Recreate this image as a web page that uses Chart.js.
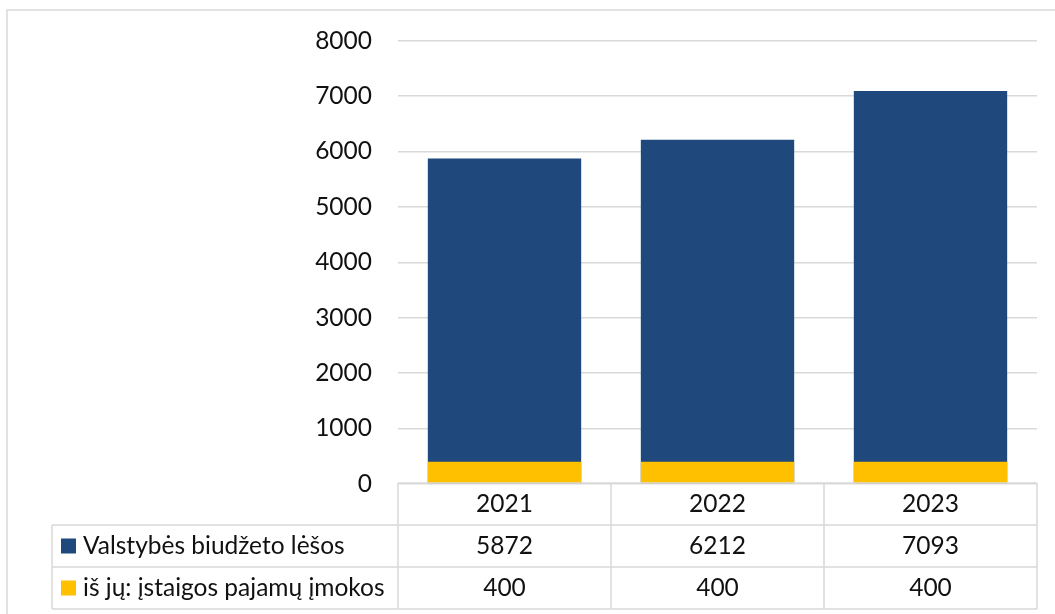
<!DOCTYPE html>
<html>
<head>
<meta charset="utf-8">
<script src="https://cdn.jsdelivr.net/npm/chart.js@4.4.1/dist/chart.umd.min.js"></script>
<style>
  html, body { margin: 0; padding: 0; background: #fff; }
  #wrap { width: 1055px; height: 614px; position: relative; }
</style>
</head>
<body>
<div id="wrap"><canvas id="chart"></canvas></div>
<script>
const years = ['2021', '2022', '2023'];
const budget = [5872, 6212, 7093];
const ownIncome = [400, 400, 400];
const seriesNames = ['Valstybės biudžeto lėšos', 'iš jų: įstaigos pajamų įmokos'];
const yTicks = [0, 1000, 2000, 3000, 4000, 5000, 6000, 7000, 8000];

const BLUE = '#1F497D';
const YELLOW = '#FFC000';
const LINE = '#d9d9d9';
const FONT = 'Lato, "Open Sans", sans-serif';
const FONT_SIZE = 24.5;

// frame + data table under the plot
const tablePlugin = {
  id: 'dataTable',
  beforeDraw(chart) {
    const ctx = chart.ctx;
    ctx.save();
    ctx.strokeStyle = LINE;
    ctx.lineWidth = 1.5;
    ctx.beginPath();
    ctx.moveTo(7, chart.height);
    ctx.lineTo(7, 10);
    ctx.lineTo(chart.width, 10);
    ctx.stroke();
    ctx.restore();
  },
  afterDraw(chart) {
    const ctx = chart.ctx;
    const x = chart.scales.x;
    const area = chart.chartArea;
    const rowH = 42;
    const top = area.bottom - 1;
    const legendLeft = 52;
    const colW = (area.right - area.left) / years.length;

    ctx.save();
    ctx.strokeStyle = LINE;
    ctx.lineWidth = 1.5;
    ctx.beginPath();
    // horizontal lines
    ctx.moveTo(area.left, top);
    ctx.lineTo(area.right, top);
    for (let r = 1; r <= 3; r++) {
      ctx.moveTo(legendLeft, top + r * rowH);
      ctx.lineTo(area.right, top + r * rowH);
    }
    // vertical lines
    ctx.moveTo(legendLeft, top + rowH);
    ctx.lineTo(legendLeft, top + 3 * rowH);
    for (let c = 0; c <= years.length; c++) {
      const cx = area.left + c * colW;
      ctx.moveTo(cx, top);
      ctx.lineTo(cx, top + 3 * rowH);
    }
    ctx.stroke();

    ctx.fillStyle = '#111';
    ctx.font = FONT_SIZE + 'px ' + FONT;
    ctx.textBaseline = 'middle';
    ctx.textAlign = 'center';
    years.forEach((yr, i) => {
      const cx = x.getPixelForValue(i);
      ctx.fillText(yr, cx, top + rowH / 2);
      ctx.fillText(String(budget[i]), cx, top + rowH * 1.5);
      ctx.fillText(String(ownIncome[i]), cx, top + rowH * 2.5);
    });

    const keys = [BLUE, YELLOW];
    ctx.textAlign = 'left';
    seriesNames.forEach((name, r) => {
      const cy = top + rowH * (r + 1.5);
      ctx.fillStyle = keys[r];
      ctx.fillRect(61, cy - 7.5, 15, 15);
      ctx.fillStyle = '#111';
      ctx.fillText(name, 83, cy);
    });
    ctx.restore();
  }
};

new Chart(document.getElementById('chart'), {
  type: 'bar',
  data: {
    labels: years,
    datasets: [
      {
        label: seriesNames[0],
        data: budget,
        backgroundColor: BLUE,
        order: 1
      },
      {
        label: seriesNames[1],
        data: ownIncome,
        backgroundColor: YELLOW,
        order: 0
      }
    ]
  },
  options: {
    responsive: true,
    maintainAspectRatio: false,
    animation: false,
    datasets: {
      bar: { categoryPercentage: 1, barPercentage: 0.72 }
    },
    layout: { padding: { top: 40, right: 18, bottom: 130, left: 0 } },
    plugins: {
      legend: { display: false },
      tooltip: { enabled: false }
    },
    scales: {
      x: {
        stacked: true,
        display: false
      },
      y: {
        stacked: false,
        min: 0,
        max: 8000,
        afterBuildTicks: (scale) => { scale.ticks = yTicks.map(v => ({ value: v })); },
        afterFit: (scale) => { scale.width = 398; },
        border: { display: false },
        grid: { color: LINE, lineWidth: 1.5, drawTicks: false },
        ticks: {
          padding: 26,
          color: '#111',
          font: { family: FONT, size: FONT_SIZE },
          callback: (v) => String(v)
        }
      }
    }
  },
  plugins: [tablePlugin]
});
</script>
</body>
</html>
